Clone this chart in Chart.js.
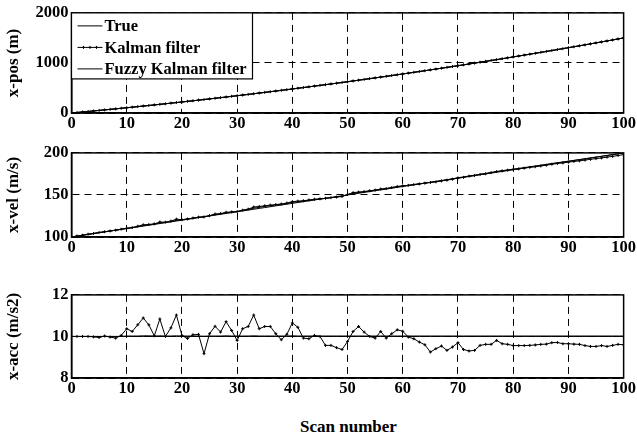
<!DOCTYPE html>
<html><head><meta charset="utf-8">
<script src="https://cdn.jsdelivr.net/npm/chart.js@4/dist/chart.umd.min.js"></script>
<style>
html,body{margin:0;padding:0;background:#fff;}
#wrap{position:relative;width:637px;height:440px;overflow:hidden;}
.cv{position:absolute;left:0;width:637px;}
#xlab{position:absolute;left:71px;width:555px;top:416px;text-align:center;font:bold 17px "Liberation Serif","Times New Roman",serif;line-height:22px;color:#000;}
</style></head><body>
<div id="wrap">
<div class="cv" style="top:0;height:135px"><canvas id="c1"></canvas></div>
<div class="cv" style="top:140px;height:119px"><canvas id="c2"></canvas></div>
<div class="cv" style="top:282px;height:118px"><canvas id="c3"></canvas></div>
<div id="xlab">Scan number</div>
</div>
<script>
const scans = [0,1,2,3,4,5,6,7,8,9,10,11,12,13,14,15,16,17,18,19,20,21,22,23,24,25,26,27,28,29,30,31,32,33,34,35,36,37,38,39,40,41,42,43,44,45,46,47,48,49,50,51,52,53,54,55,56,57,58,59,60,61,62,63,64,65,66,67,68,69,70,71,72,73,74,75,76,77,78,79,80,81,82,83,84,85,86,87,88,89,90,91,92,93,94,95,96,97,98,99,100];
const xTicks = [0,10,20,30,40,50,60,70,80,90,100];
const seriesNames = ["True","Kalman filter","Fuzzy Kalman filter"];

const truePos = [0,10,20,30,41,51,62,72,83,94,105,116,127,138,150,161,173,184,196,208,220,232,244,256,269,281,294,306,319,332,345,358,371,384,398,411,425,438,452,466,480,494,508,522,537,551,566,580,595,610,625,640,655,670,686,701,717,732,748,764,780,796,812,828,845,861,878,894,911,928,945,962,979,996,1014,1031,1049,1066,1084,1102,1120,1138,1156,1174,1193,1211,1230,1248,1267,1286,1305,1324,1343,1362,1382,1401,1421,1440,1460,1480,1500];
const kalmanPos = [0,10,20,31,41,52,62,73,83,94,105,116,128,139,150,162,173,185,197,209,221,233,245,257,269,282,294,307,320,333,346,359,372,385,399,412,426,439,453,467,481,495,509,523,538,552,566,581,595,610,625,641,656,671,687,702,718,733,749,765,781,797,813,829,845,862,878,895,912,929,946,963,980,997,1015,1032,1050,1067,1085,1103,1121,1139,1157,1175,1193,1212,1230,1249,1268,1286,1305,1324,1343,1362,1381,1401,1420,1440,1459,1479,1499];
const fuzzyPos = [0,10,20,30,41,51,62,72,83,94,105,116,127,139,150,161,173,185,196,208,220,232,244,257,269,281,294,307,319,332,345,358,371,385,398,412,425,439,452,466,480,494,508,522,537,551,566,580,595,610,625,640,655,671,686,701,717,733,748,764,780,796,812,829,845,861,878,895,911,928,945,962,979,996,1014,1031,1049,1066,1084,1102,1120,1138,1156,1175,1193,1211,1230,1248,1267,1286,1305,1324,1343,1362,1382,1401,1421,1440,1460,1480,1500];

const trueVel = [100,101,102,103,104,105,106,107,108,109,110,111,112,113,114,115,116,117,118,119,120,121,122,123,124,125,126,127,128,129,130,131,132,133,134,135,136,137,138,139,140,141,142,143,144,145,146,147,148,149,150,151,152,153,154,155,156,157,158,159,160,161,162,163,164,165,166,167,168,169,170,171,172,173,174,175,176,177,178,179,180,181,182,183,184,185,186,187,188,189,190,191,192,193,194,195,196,197,198,199,200];
const kalmanVel = [100,101.2,102.1,103.3,104.2,105.4,106.3,107.2,108.1,109.3,110.4,111.2,112.8,114.5,114.9,115.6,117.8,117.6,118.9,121.2,120.6,121.4,122.5,123.6,123.9,125.4,127.3,127.9,129.4,129.8,130.3,131.9,133.1,135.6,136.3,137.1,137.9,138.6,139.2,140.3,142.1,142.6,143.1,144.0,144.9,145.4,146.0,146.8,147.5,148.1,150.5,152.8,153.4,154.1,155.0,155.8,157.0,157.6,158.8,160.1,160.8,161.4,162.3,163.1,164.0,164.8,165.6,166.7,167.6,168.7,170.1,170.9,172.3,173.1,174.4,175.2,176.5,177.8,178.6,179.4,180.3,181.0,181.9,182.8,183.6,184.5,185.4,186.5,187.4,188.1,189.0,189.8,190.6,191.5,192.4,193.2,194.0,195.0,195.9,196.9,198.0];
const fuzzyVel = [100,101.1,102.1,103.2,104.2,105.3,106.2,107.2,108.2,109.2,110.3,111.2,112.4,113.6,114.5,115.4,116.6,117.4,118.5,119.7,120.5,121.4,122.4,123.4,124.3,125.3,126.6,127.5,128.6,129.5,130.4,131.6,132.8,134.2,135.3,136.3,137.2,138.1,139.0,140.0,141.2,142.0,142.8,143.6,144.4,145.2,146.0,146.8,147.6,148.5,150.4,151.8,152.8,153.7,154.6,155.6,156.7,157.6,158.7,159.8,160.7,161.5,162.4,163.3,164.2,165.1,166.0,167.1,168.1,169.2,170.5,171.4,172.5,173.5,174.6,175.6,176.7,177.8,178.8,179.8,180.7,181.6,182.5,183.5,184.4,185.4,186.3,187.4,188.3,189.2,190.2,191.1,192.0,193.0,194.0,195.0,195.9,196.9,197.9,198.9,199.8];

const trueAcc = [10,10,10,10,10,10,10,10,10,10,10,10,10,10,10,10,10,10,10,10,10,10,10,10,10,10,10,10,10,10,10,10,10,10,10,10,10,10,10,10,10,10,10,10,10,10,10,10,10,10,10,10,10,10,10,10,10,10,10,10,10,10,10,10,10,10,10,10,10,10,10,10,10,10,10,10,10,10,10,10,10,10,10,10,10,10,10,10,10,10,10,10,10,10,10,10,10,10,10,10,10];
const kalmanAcc = [10.0,10.0,10.0,10.0,9.98,9.95,10.02,9.97,9.92,10.05,10.37,10.24,10.56,10.89,10.56,10.03,10.84,10.0,10.41,11.03,10.05,9.9,10.08,10.1,9.17,10.13,10.49,10.21,10.71,10.29,9.81,10.37,10.48,11.03,10.37,10.48,10.48,10.13,9.84,10.1,10.65,10.44,9.92,9.89,10.05,10.0,9.57,9.57,9.46,9.37,9.76,10.24,10.48,10.21,10.0,9.92,10.24,9.92,10.13,10.32,10.25,9.97,9.89,9.73,9.6,9.25,9.41,9.54,9.33,9.49,9.7,9.37,9.3,9.33,9.57,9.62,9.62,9.81,9.65,9.62,9.56,9.56,9.56,9.57,9.59,9.62,9.63,9.7,9.71,9.65,9.65,9.63,9.62,9.56,9.52,9.52,9.56,9.52,9.57,9.62,9.6];
const fuzzyAcc = [10,10,10,10,10,10,10,10,10,10,10.02,10.02,10.02,10.03,10.03,10.02,10.03,10.02,10.02,10.03,10.02,10.02,10.02,10.02,10.01,10.02,10.02,10.02,10.03,10.02,10.02,10.02,10.02,10.03,10.02,10.02,10.02,10.02,10.02,10.02,10.03,10.02,10.02,10.02,10.02,10.02,10.02,10.02,10.02,10.02,10.02,10.02,10.02,10.02,10.02,10.02,10.02,10.02,10.02,10.02,10.02,10.02,10.02,10.02,10.02,10.02,10.02,10.02,10.02,10.02,10.02,10.02,10.02,10.02,10.02,10.02,10.02,10.02,10.02,10.02,10.02,10.02,10.02,10.02,10.02,10.02,10.02,10.02,10.02,10.02,10.02,10.02,10.02,10.02,10.02,10.02,10.02,10.02,10.02,10.02,10.02];

const FONT = '"Liberation Serif","Times New Roman",serif';

const frame = {
  id: 'frame',
  afterDraw(chart) {
    const a = chart.chartArea, ctx = chart.ctx;
    ctx.save();
    ctx.strokeStyle = '#000'; ctx.lineWidth = 1.5; ctx.setLineDash([]);
    ctx.strokeRect(a.left, a.top, a.right - a.left, a.bottom - a.top);
    ctx.restore();
  }
};

const legendBox = {
  id: 'legendBox',
  afterDraw(chart) {
    const a = chart.chartArea, ctx = chart.ctx;
    const x0 = a.left, y0 = a.top, w = 181, h = 66;
    ctx.save();
    ctx.fillStyle = '#fff';
    ctx.fillRect(x0, y0, w, h);
    ctx.strokeStyle = '#000'; ctx.lineWidth = 1.2; ctx.setLineDash([]);
    ctx.strokeRect(x0, y0, w, h);
    ctx.font = 'bold 16.5px ' + FONT;
    ctx.fillStyle = '#000'; ctx.textBaseline = 'middle'; ctx.textAlign = 'left';
    const rows = [y0 + 13, y0 + 34.5, y0 + 56];
    seriesNames.forEach((name, i) => {
      const y = rows[i];
      ctx.lineWidth = 1;
      ctx.beginPath(); ctx.moveTo(x0 + 6, y); ctx.lineTo(x0 + 31, y); ctx.stroke();
      if (i === 1) {
        [x0 + 12, x0 + 18.5, x0 + 25].forEach(px => {
          ctx.beginPath(); ctx.moveTo(px, y - 1.5); ctx.lineTo(px, y + 1.5);
          ctx.moveTo(px - 1.5, y); ctx.lineTo(px + 1.5, y); ctx.stroke();
        });
      }
      ctx.fillText(name, x0 + 33, y + 1);
    });
    ctx.restore();
  }
};

const tickFont = { family: FONT, weight: 'bold', size: 16.5, style: 'normal' };

function makeChart(id, trueD, kalD, fuzD, yMin, yMax, yStep, yTitle, padTop, withLegend) {
  return new Chart(document.getElementById(id), {
    type: 'line',
    data: {
      labels: scans,
      datasets: [
        { label: seriesNames[0], data: trueD, borderColor: '#000', borderWidth: 1, pointRadius: 0, tension: 0 },
        { label: seriesNames[1], data: kalD, borderColor: '#000', borderWidth: 1, pointRadius: 1.5, pointStyle: 'cross', pointBorderColor: '#000', pointBorderWidth: 1, tension: 0 },
        { label: seriesNames[2], data: fuzD, borderColor: '#000', borderWidth: 1, pointRadius: 0, tension: 0 }
      ]
    },
    options: {
      animation: false, responsive: true, maintainAspectRatio: false,
      events: [],
      layout: { padding: { top: padTop, right: 11, left: 0, bottom: 0 } },
      plugins: { legend: { display: false }, tooltip: { enabled: false } },
      scales: {
        x: {
          type: 'linear', min: 0, max: 100,
          afterBuildTicks: s => { s.ticks = xTicks.map(v => ({ value: v })); },
          afterFit: s => { s.height = 22; },
          grid: { color: '#000', lineWidth: 1, drawTicks: false },
          border: { display: true, color: '#000', width: 1.5, dash: [7, 5] },
          ticks: { color: '#000', padding: 1, maxRotation: 0, autoSkip: false, callback: v => String(v), font: tickFont }
        },
        y: {
          min: yMin, max: yMax,
          ticks: { stepSize: yStep, color: '#000', padding: 3, callback: v => String(v), font: tickFont },
          afterFit: s => { s.width = 71.5; },
          grid: { color: '#000', lineWidth: 1, drawTicks: false },
          border: { display: true, color: '#000', width: 1.5, dash: [7, 5] },
          title: { display: true, text: yTitle, color: '#000', padding: { top: 3, bottom: 2 }, font: { family: FONT, weight: 'bold', size: 17 } }
        }
      }
    },
    plugins: withLegend ? [frame, legendBox] : [frame]
  });
}

makeChart('c1', truePos, kalmanPos, fuzzyPos, 0, 2000, 1000, 'x-pos (m)', 10, true);
makeChart('c2', trueVel, kalmanVel, fuzzyVel, 100, 200, 50, 'x-vel (m/s)', 12, false);
makeChart('c3', trueAcc, kalmanAcc, fuzzyAcc, 8, 12, 2, 'x-acc (m/s2)', 12, false);
</script>
</body></html>
